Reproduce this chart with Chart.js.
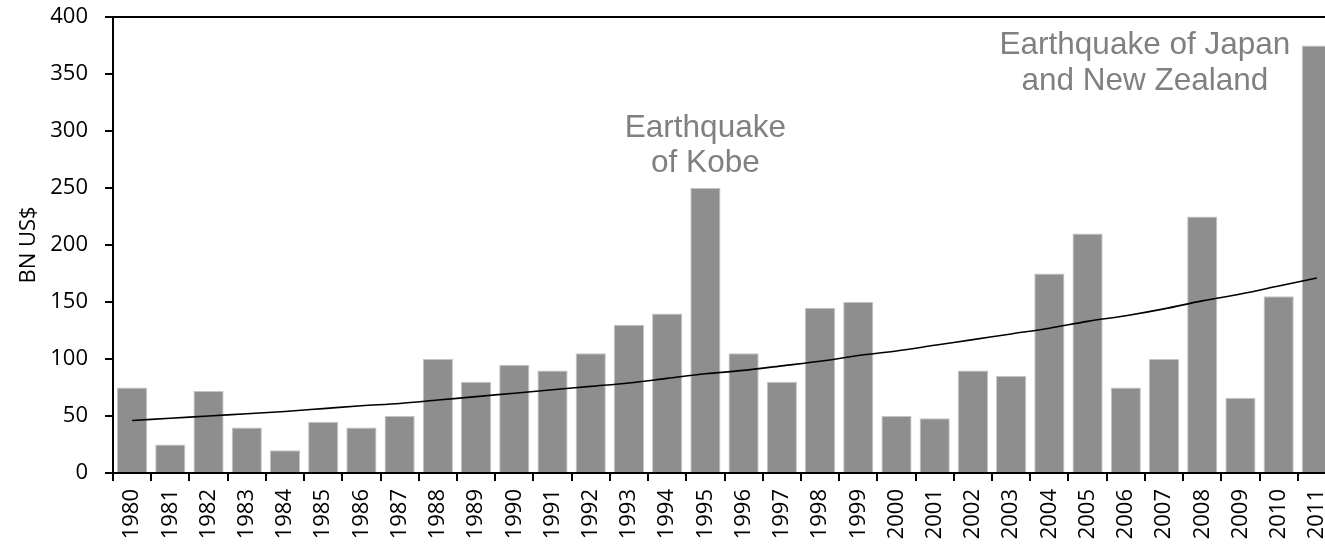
<!DOCTYPE html>
<html>
<head>
<meta charset="utf-8">
<script src="https://cdn.jsdelivr.net/npm/chart.js@4.4.1/dist/chart.umd.min.js"></script>
<style>
  html, body { margin: 0; padding: 0; background: #fff; overflow: hidden; }
  #wrap { width: 1325px; height: 544px; overflow: hidden; }
  canvas { display: block; }
</style>
</head>
<body>
<div id="wrap"><canvas id="c" width="1336" height="544"></canvas></div>
<script>
// Yearly economic losses from natural catastrophes, billions of US dollars
const years = ['1980','1981','1982','1983','1984','1985','1986','1987','1988','1989',
  '1990','1991','1992','1993','1994','1995','1996','1997','1998','1999',
  '2000','2001','2002','2003','2004','2005','2006','2007','2008','2009','2010','2011'];
const losses = [75, 25, 72, 40, 20, 45, 40, 50, 100, 80,
  95, 90, 105, 130, 140, 250, 105, 80, 145, 150,
  50, 48, 90, 85, 175, 210, 75, 100, 225, 66, 155, 375];
// Exponential trend line values
const trend = [46, 48, 50, 52, 54, 56.5, 59, 61, 64, 67,
  70, 73, 76, 79, 83, 87, 90, 94, 98, 103,
  107, 112, 117, 122, 127, 133, 138, 144, 151, 157, 164, 171];
const yTicks = [0, 50, 100, 150, 200, 250, 300, 350, 400];

// Callout texts: anchor category index, and the value each line is centred on
const kobeLines = ['Earthquake', 'of Kobe'];
const kobeAt = 15;
const kobeValues = [302, 272];
const japanLines = ['Earthquake of Japan', 'and New Zealand'];
const japanAt = 26.5;
const japanValues = [375, 344];

const tickFont = { family: "'Open Sans', sans-serif", size: 22 };

const frame = {
  id: 'frame',
  afterDraw(chart) {
    const { ctx, chartArea } = chart;
    ctx.save();
    ctx.strokeStyle = '#000';
    ctx.lineWidth = 2;
    ctx.beginPath();
    ctx.moveTo(chartArea.left - 1, chartArea.top);
    ctx.lineTo(chartArea.right, chartArea.top);
    ctx.stroke();
    ctx.restore();
  }
};

const callouts = {
  id: 'callouts',
  afterDatasetsDraw(chart) {
    const { ctx, scales } = chart;
    ctx.save();
    ctx.fillStyle = '#808080';
    ctx.font = "31.5px 'Liberation Sans', Arial, sans-serif";
    ctx.textAlign = 'center';
    ctx.textBaseline = 'middle';
    const draw = (lines, at, vals) => {
      const x = scales.x.getPixelForValue(at);
      lines.forEach((t, i) => ctx.fillText(t, x, scales.y.getPixelForValue(vals[i])));
    };
    draw(kobeLines, kobeAt, kobeValues);
    draw(japanLines, japanAt, japanValues);
    ctx.restore();
  }
};

new Chart(document.getElementById('c'), {
  data: {
    labels: years,
    datasets: [
      {
        type: 'line',
        data: trend,
        borderColor: '#000',
        borderWidth: 1.6,
        pointRadius: 0,
        cubicInterpolationMode: 'monotone',
        fill: false,
        order: 0
      },
      {
        type: 'bar',
        data: losses,
        backgroundColor: '#8e8e8e',
        borderColor: '#c4c4c4',
        borderWidth: 1,
        categoryPercentage: 1,
        barPercentage: 0.79,
        order: 1
      }
    ]
  },
  options: {
    responsive: false,
    devicePixelRatio: 1,
    animation: false,
    layout: { padding: { top: 17, right: 0, left: 0, bottom: 0 } },
    plugins: { legend: { display: false }, tooltip: { enabled: false } },
    scales: {
      x: {
        type: 'category',
        offset: true,
        grid: { offset: true, drawOnChartArea: false, drawTicks: true, tickLength: 8, color: '#000', lineWidth: 2 },
        border: { display: true, color: '#000', width: 2 },
        ticks: { color: '#000', font: tickFont, minRotation: 90, maxRotation: 90, padding: 8, autoSkip: false },
        afterFit(scale) {
          scale.height = 71;
          scale.paddingLeft = 0;
          scale.paddingRight = 0;
        }
      },
      y: {
        min: 0,
        max: 400,
        afterBuildTicks(scale) { scale.ticks = yTicks.map(v => ({ value: v })); },
        grid: { drawOnChartArea: false, drawTicks: true, tickLength: 8, color: '#000', lineWidth: 2 },
        border: { display: true, color: '#000', width: 2 },
        ticks: { color: '#000', font: tickFont, padding: 17 },
        title: {
          display: true,
          text: 'BN US$',
          color: '#000',
          font: { family: "'Open Sans', sans-serif", size: 22 },
          padding: { top: 16, bottom: 0 }
        },
        afterFit(scale) {
          scale.width = 113;
          scale.paddingTop = 0;
          scale.paddingBottom = 0;
        }
      }
    }
  },
  plugins: [frame, callouts]
});
</script>
</body>
</html>
